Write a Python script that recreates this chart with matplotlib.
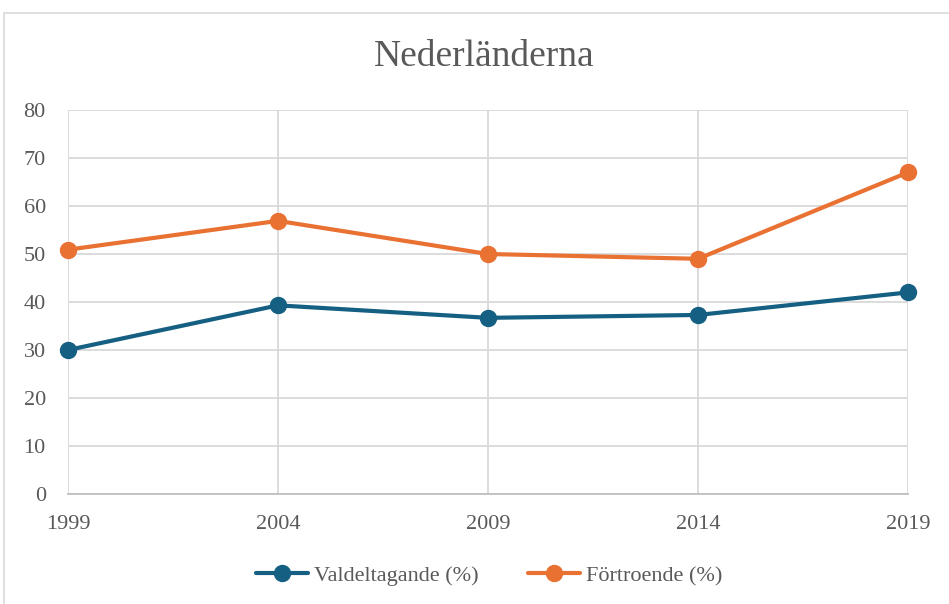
import matplotlib.pyplot as plt
from matplotlib.patches import Rectangle

years = ['1999', '2004', '2009', '2014', '2019']
valdeltagande = [30.0, 39.3, 36.7, 37.3, 42.0]
fortroende = [50.9, 56.9, 50.0, 49.0, 67.0]
series_labels = ['Valdeltagande (%)', 'Förtroende (%)']
title = 'Nederländerna'

BLUE = '#156082'
ORANGE = '#E97132'
TEXT = '#595959'
GRID = '#d9d9d9'

plt.rcParams['font.family'] = ['Liberation Serif', 'DejaVu Serif']

fig = plt.figure(figsize=(9.49, 6.04), dpi=100)
# outer chart frame
fig.patches.append(Rectangle((4 / 949, -0.01), 1.0, 1 - 13 / 604 + 0.01,
                             transform=fig.transFigure, fill=False,
                             edgecolor=GRID, linewidth=1.2))

ax = fig.add_axes([68 / 949, 110 / 604, 840 / 949, 384 / 604])
x = list(range(len(years)))
ax.plot(x, valdeltagande, color=BLUE, lw=3, marker='o', ms=11.5,
        label=series_labels[0], solid_capstyle='round', clip_on=False, zorder=3)
ax.plot(x, fortroende, color=ORANGE, lw=3, marker='o', ms=11.5,
        label=series_labels[1], solid_capstyle='round', clip_on=False, zorder=3)

ax.set_xlim(0, len(years) - 1)
ax.set_ylim(0, 80)
ax.set_yticks(range(0, 81, 10))
ax.set_xticks(x)
ax.set_xticklabels(years)
ax.grid(True, color=GRID, lw=1.3)
ax.set_axisbelow(True)
for s in ['top', 'right', 'left']:
    ax.spines[s].set_visible(False)
ax.spines['bottom'].set_color('#bfbfbf')
ax.spines['bottom'].set_linewidth(1.3)
ax.tick_params(length=0, labelsize=16, labelcolor=TEXT)
ax.tick_params(axis='y', pad=16)
ax.tick_params(axis='x', pad=15)

fig.text(484 / 949, 1 - 57 / 604, title, ha='center', va='center',
         fontsize=27, color=TEXT)

fig.legend(loc='center', bbox_to_anchor=(489 / 949, 1 - 576 / 604), ncol=2,
           frameon=False, fontsize=16, labelcolor=TEXT, handlelength=2.35,
           handletextpad=0.28, columnspacing=2.2)

fig.savefig('out.png', dpi=100)
